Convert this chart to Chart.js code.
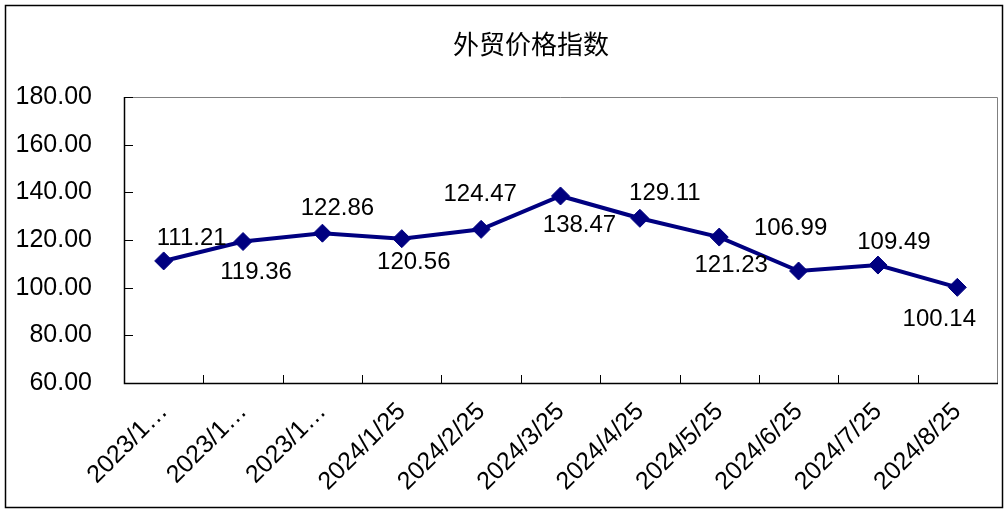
<!DOCTYPE html>
<html>
<head>
<meta charset="utf-8">
<script src="https://cdn.jsdelivr.net/npm/chart.js@4/dist/chart.umd.min.js"></script>
<style>
html,body{margin:0;padding:0;background:#fff;}
canvas{display:block;}
</style>
</head>
<body>
<canvas id="c" width="1008" height="517"></canvas>
<script>
const titleText = "外贸价格指数";
const categories = ["2023/1…","2023/1…","2023/1…","2024/1/25","2024/2/25","2024/3/25","2024/4/25","2024/5/25","2024/6/25","2024/7/25","2024/8/25"];
const values = [111.21,119.36,122.86,120.56,124.47,138.47,129.11,121.23,106.99,109.49,100.14];
const yTicks = [60,80,100,120,140,160,180];
// label offsets relative to each point (layout only)
const labelDx = [28,13,15,12,-1,19,25,12,-8,16,-18];
const labelDy = [-23,31,-25,24,-35,29,-25,28,-43,-23,32];

const FONT = '"Liberation Sans", Arial, sans-serif';

const deco = {
  id: 'deco',
  beforeDraw(chart) {
    const ctx = chart.ctx;
    ctx.save();
    ctx.fillStyle = '#fff';
    ctx.fillRect(0,0,chart.width,chart.height);
    ctx.restore();
  },
  afterDraw(chart) {
    const ctx = chart.ctx;
    const a = chart.chartArea;
    const x = chart.scales.x, y = chart.scales.y;
    ctx.save();
    // outer border
    ctx.strokeStyle = '#000';
    ctx.lineWidth = 1.5;
    ctx.strokeRect(5.5, 5.5, 997, 502);
    // title
    ctx.fillStyle = '#000';
    ctx.font = '26px "Noto Sans CJK SC", sans-serif';
    ctx.textAlign = 'center';
    ctx.textBaseline = 'middle';
    ctx.fillText(titleText, 531, 44);
    // plot border
    ctx.lineWidth = 1;
    ctx.strokeStyle = '#808080';
    ctx.beginPath();
    ctx.moveTo(a.left, a.top + 0.5); ctx.lineTo(a.right + 0.5, a.top + 0.5);
    ctx.lineTo(a.right + 0.5, a.bottom);
    ctx.stroke();
    ctx.strokeStyle = '#000';
    ctx.lineWidth = 1.5;
    ctx.beginPath();
    ctx.moveTo(a.left + 0.5, a.top); ctx.lineTo(a.left + 0.5, a.bottom + 0.5);
    ctx.lineTo(a.right + 1, a.bottom + 0.5);
    ctx.stroke();
    // inside ticks
    ctx.lineWidth = 1;
    ctx.beginPath();
    yTicks.forEach(v => {
      const py = Math.round(y.getPixelForValue(v)) + 0.5;
      ctx.moveTo(a.left, py); ctx.lineTo(a.left + 9, py);
    });
    for (let i = 1; i < categories.length; i++) {
      const px = Math.round(x.getPixelForValue(i - 0.5)) + 0.5;
      ctx.moveTo(px, a.bottom); ctx.lineTo(px, a.bottom - 8);
    }
    ctx.stroke();
    ctx.restore();
  },
  afterDatasetsDraw(chart) {
    const ctx = chart.ctx;
    const meta = chart.getDatasetMeta(0);
    ctx.save();
    ctx.fillStyle = '#000';
    ctx.font = '24px ' + FONT;
    ctx.textAlign = 'center';
    ctx.textBaseline = 'middle';
    meta.data.forEach((pt, i) => {
      ctx.fillText(values[i].toFixed(2), pt.x + labelDx[i], pt.y + labelDy[i]);
    });
    ctx.restore();
  }
};

new Chart(document.getElementById('c'), {
  type: 'line',
  data: {
    labels: categories,
    datasets: [{
      data: values,
      borderColor: '#000080',
      backgroundColor: '#000080',
      borderWidth: 4,
      pointStyle: 'rectRot',
      pointRadius: 9,
      pointHoverRadius: 9,
      pointBackgroundColor: '#000080',
      pointBorderColor: '#000080',
      pointBorderWidth: 1,
      tension: 0,
      clip: false
    }]
  },
  options: {
    responsive: false,
    animation: false,
    devicePixelRatio: 1,
    events: [],
    layout: { padding: { left: 0, right: 11, top: 97, bottom: 0 } },
    plugins: { legend: { display: false }, title: { display: false }, tooltip: { enabled: false } },
    scales: {
      x: {
        type: 'category',
        offset: true,
        grid: { display: false, drawTicks: false },
        border: { display: false },
        ticks: {
          autoSkip: false,
          maxRotation: 45,
          minRotation: 45,
          padding: 14,
          color: '#000',
          font: { family: FONT, size: 25 }
        },
        afterFit(s) { s.height = 134; }
      },
      y: {
        min: 60,
        max: 180,
        afterBuildTicks(s) { s.ticks = yTicks.map(v => ({ value: v })); },
        grid: { display: false, drawTicks: false },
        border: { display: false },
        ticks: {
          padding: 32,
          color: '#000',
          font: { family: FONT, size: 25 },
          callback: v => Number(v).toFixed(2)
        },
        afterFit(s) { s.width = 124; }
      }
    }
  },
  plugins: [deco]
});
</script>
</body>
</html>
